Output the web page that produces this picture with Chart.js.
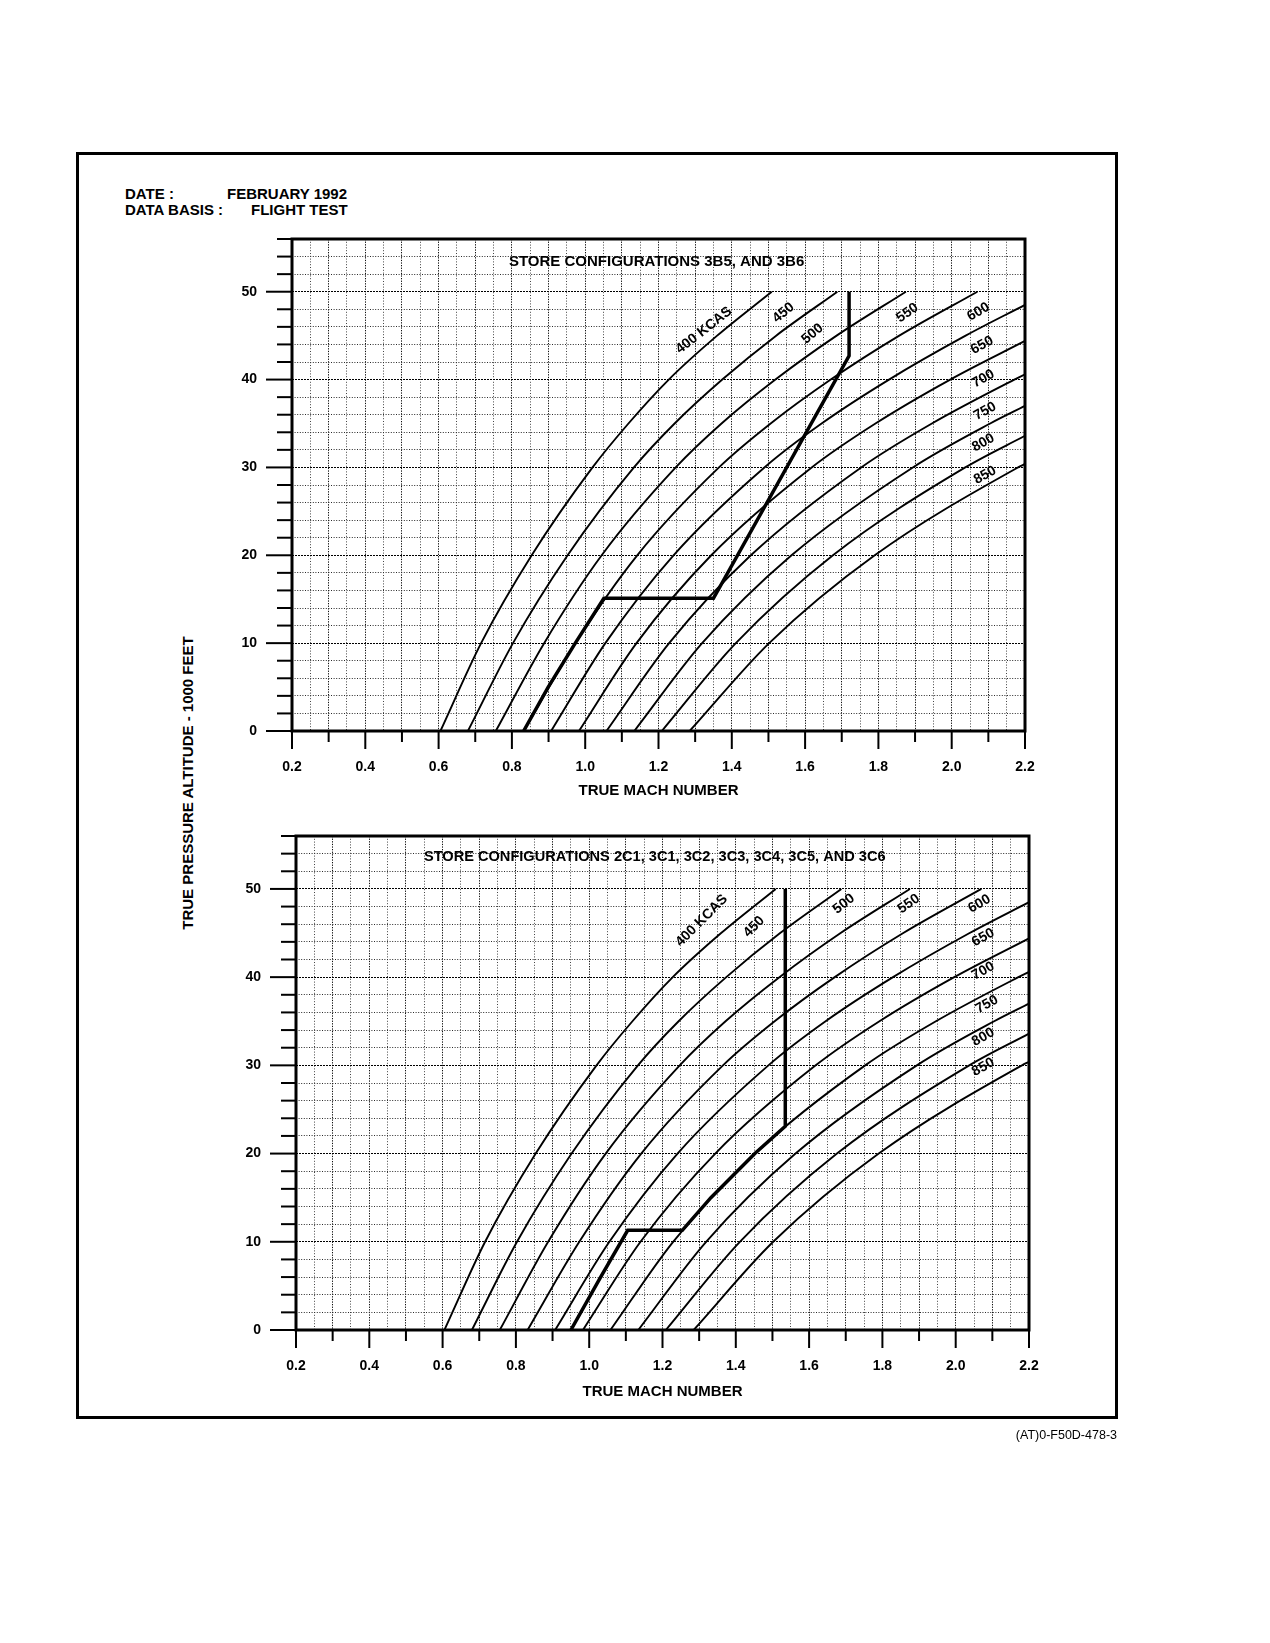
<!DOCTYPE html>
<html lang="en">
<head>
<meta charset="utf-8">
<title>True Mach number vs pressure altitude</title>
<script src="https://cdn.jsdelivr.net/npm/chart.js@4.4.1/dist/chart.umd.min.js"></script>
<style>
  html, body { margin: 0; padding: 0; background: #fff; }
  body { position: relative; width: 1270px; height: 1643px; overflow: hidden;
         font-family: "Liberation Sans", Arial, sans-serif; color: #000; }
  .frame { position: absolute; left: 76px; top: 152px; width: 1036px; height: 1261px; border: 3px solid #000; }
  .txt { position: absolute; font-weight: bold; font-size: 15px; line-height: 15px; white-space: nowrap; }
  #ytitle { position: absolute; left: -12px; top: 774px; width: 400px; height: 18px; line-height: 18px;
            text-align: center; font-weight: bold; font-size: 15px; transform: rotate(-90deg); white-space: nowrap; }
  .foot { position: absolute; right: 153px; top: 1429px; font-size: 12.5px; line-height: 12.5px; white-space: nowrap; }
  canvas { position: absolute; }
</style>
</head>
<body>
<div class="frame"></div>
<div class="txt" style="left:125px; top:186px;">DATE :</div>
<div class="txt" style="left:227px; top:186px;">FEBRUARY 1992</div>
<div class="txt" style="left:125px; top:202px;">DATA BASIS :</div>
<div class="txt" style="left:251px; top:202px;">FLIGHT TEST</div>
<div id="ytitle">TRUE PRESSURE ALTITUDE - 1000 FEET</div>
<canvas id="chartTop" width="860" height="590" style="left:190px; top:225px;"></canvas>
<canvas id="chartBottom" width="860" height="610" style="left:190px; top:820px;"></canvas>
<div class="foot">(AT)0-F50D-478-3</div>

<script>
// KCAS curves: [true Mach number, pressure altitude (1000 ft)]
const kcasNames = ['400 KCAS', '450', '500', '550', '600', '650', '700', '750', '800', '850'];
const curve400 = [[0.605, 0], [0.716, 10], [0.854, 20], [1.020, 30], [1.118, 35], [1.228, 40], [1.360, 45], [1.509, 50]];
const curve450 = [[0.680, 0], [0.803, 10], [0.952, 20], [1.133, 30], [1.244, 35], [1.374, 40], [1.521, 45], [1.688, 50]];
const curve500 = [[0.756, 0], [0.888, 10], [1.045, 20], [1.247, 30], [1.372, 35], [1.519, 40], [1.686, 45], [1.875, 50]];
const curve550 = [[0.832, 0], [0.973, 10], [1.142, 20], [1.365, 30], [1.506, 35], [1.670, 40], [1.857, 45], [2.070, 50]];
const curve600 = [[0.907, 0], [1.055, 10], [1.241, 20], [1.489, 30], [1.645, 35], [1.829, 40], [2.038, 45], [2.200, 48.5]];
const curve650 = [[0.983, 0], [1.140, 10], [1.344, 20], [1.618, 30], [1.792, 35], [1.996, 40], [2.200, 44.4]];
const curve700 = [[1.058, 0], [1.229, 10], [1.452, 20], [1.753, 30], [1.946, 35], [2.171, 40], [2.200, 40.6]];
const curve750 = [[1.134, 0], [1.319, 10], [1.563, 20], [1.894, 30], [2.105, 35], [2.200, 37.0]];
const curve800 = [[1.209, 0], [1.411, 10], [1.676, 20], [2.037, 30], [2.200, 33.6]];
const curve850 = [[1.285, 0], [1.502, 10], [1.790, 20], [2.181, 30], [2.200, 30.4]];
const kcasCurves = [curve400, curve450, curve500, curve550, curve600, curve650, curve700, curve750, curve800, curve850];

// limit lines (bold)
const envelopeTop = [[0.832, 0], [0.899, 5], [0.973, 10], [1.051, 15.1], [1.350, 15.1], [1.720, 42.7], [1.720, 50]];
const envelopeBottom = [[0.950, 0], [1.030, 5.9], [1.105, 11.3], [1.254, 11.3], [1.332, 15], [1.452, 20], [1.535, 23.1], [1.535, 50]];

// label placement: [mach, altitude, angle in degrees]
const spotsTop = [[1.324, 45.6, 38], [1.541, 47.6, 40], [1.620, 45.2, 40], [1.879, 47.6, 35], [2.073, 47.7, 30],
                  [2.083, 43.9, 29], [2.086, 40.1, 29], [2.091, 36.4, 29], [2.086, 32.8, 29], [2.091, 29.1, 29]];
const spotsBottom = [[1.307, 46.4, 45], [1.450, 45.7, 45], [1.695, 48.3, 38], [1.872, 48.3, 35], [2.065, 48.3, 30],
                     [2.075, 44.5, 29], [2.075, 40.7, 29], [2.085, 36.9, 29], [2.075, 33.2, 29], [2.075, 29.8, 29]];

const FONT = '"Liberation Sans", Arial, sans-serif';
Chart.defaults.font.family = FONT;
Chart.defaults.color = '#000';

function isStep(v, step) {
    return Math.abs(v / step - Math.round(v / step)) < 1e-6;
}

function toXY(pts) {
    return pts.map(p => ({ x: p[0], y: p[1] }));
}

function chartMarks(titleText, titleSize, titleAt, spots) {
    return {
        id: 'chartMarks',
        afterDatasetsDraw(chart) {
            const { ctx, scales: { x, y } } = chart;
            ctx.save();
            ctx.fillStyle = '#000';
            ctx.font = 'bold ' + titleSize + 'px ' + FONT;
            ctx.textAlign = 'left';
            ctx.textBaseline = 'middle';
            ctx.fillText(titleText, x.getPixelForValue(titleAt[0]), y.getPixelForValue(titleAt[1]));

            ctx.font = 'bold 14px ' + FONT;
            ctx.textAlign = 'center';
            spots.forEach((s, i) => {
                ctx.save();
                ctx.translate(x.getPixelForValue(s[0]), y.getPixelForValue(s[1]));
                ctx.rotate(-s[2] * Math.PI / 180);
                ctx.fillText(kcasNames[i], 0, 0);
                ctx.restore();
            });
            ctx.restore();
        },
        afterDraw(chart) {
            const { ctx, chartArea: a, scales: { x, y } } = chart;
            ctx.save();
            ctx.strokeStyle = '#000';
            ctx.lineWidth = 2;
            x.ticks.forEach(t => {
                if (!isStep(t.value, 0.1)) return;
                const len = isStep(t.value, 0.2) ? 18 : 11;
                const px = x.getPixelForValue(t.value);
                ctx.beginPath();
                ctx.moveTo(px, a.bottom);
                ctx.lineTo(px, a.bottom + len);
                ctx.stroke();
            });
            y.ticks.forEach(t => {
                const len = isStep(t.value, 10) ? 26 : 15;
                const py = y.getPixelForValue(t.value);
                ctx.beginPath();
                ctx.moveTo(a.left, py);
                ctx.lineTo(a.left - len, py);
                ctx.stroke();
            });
            ctx.lineWidth = 3;
            ctx.strokeRect(a.left, a.top, a.right - a.left, a.bottom - a.top);
            ctx.restore();
        }
    };
}

function buildChart(canvasId, box, envelope, titleText, titleSize, titleAt, spots) {
    const datasets = kcasCurves.map(c => ({
        data: toXY(c),
        borderColor: '#000',
        borderWidth: 1.9,
        pointRadius: 0,
        fill: false,
        cubicInterpolationMode: 'monotone'
    }));
    datasets.push({
        data: toXY(envelope),
        borderColor: '#000',
        borderWidth: 3.5,
        pointRadius: 0,
        fill: false,
        tension: 0,
        borderJoinStyle: 'miter'
    });

    return new Chart(document.getElementById(canvasId), {
        type: 'line',
        data: { datasets: datasets },
        options: {
            responsive: false,
            animation: false,
            events: [],
            layout: { padding: { top: box.top, right: box.right, left: 0, bottom: 0 } },
            plugins: { legend: { display: false }, tooltip: { enabled: false } },
            scales: {
                x: {
                    type: 'linear',
                    min: 0.2,
                    max: 2.2,
                    afterFit: s => {
                        s.height = box.xHeight;
                        s.paddingLeft = 0;
                        s.paddingRight = 0;
                    },
                    ticks: {
                        stepSize: 0.05,
                        autoSkip: false,
                        maxRotation: 0,
                        minRotation: 0,
                        padding: 28,
                        font: { size: 14, weight: 'bold' },
                        callback: v => isStep(v, 0.2) ? v.toFixed(1) : ''
                    },
                    grid: {
                        drawTicks: false,
                        lineWidth: 1,
                        color: c => isStep(c.tick.value, 0.1) ? '#111' : '#444'
                    },
                    border: {
                        display: false,
                        dash: c => isStep(c.tick.value, 0.1) ? [1.3, 1.3] : [1, 1.8]
                    },
                    title: {
                        display: true,
                        text: 'TRUE MACH NUMBER',
                        font: { size: 15, weight: 'bold' },
                        padding: { top: 0, bottom: box.titlePad }
                    }
                },
                y: {
                    type: 'linear',
                    min: 0,
                    max: 56,
                    afterFit: s => {
                        s.width = box.yWidth;
                        s.paddingTop = 0;
                        s.paddingBottom = 0;
                    },
                    ticks: {
                        stepSize: 2,
                        autoSkip: false,
                        padding: 35,
                        font: { size: 14, weight: 'bold' },
                        callback: v => v % 10 === 0 ? String(v) : ''
                    },
                    grid: {
                        drawTicks: false,
                        lineWidth: 1,
                        color: c => isStep(c.tick.value, 10) ? '#000' : '#2a2a2a'
                    },
                    border: {
                        display: false,
                        dash: c => isStep(c.tick.value, 10) ? [2, 1] : [1, 1.6]
                    }
                }
            }
        },
        plugins: [chartMarks(titleText, titleSize, titleAt, spots)]
    });
}

buildChart('chartTop', { top: 14, right: 25, yWidth: 102, xHeight: 84, titlePad: 15 },
    envelopeTop, 'STORE CONFIGURATIONS 3B5, AND 3B6', 15, [0.792, 53.35], spotsTop);

buildChart('chartBottom', { top: 16, right: 21, yWidth: 106, xHeight: 100, titlePad: 29 },
    envelopeBottom, 'STORE CONFIGURATIONS 2C1, 3C1, 3C2, 3C3, 3C4, 3C5, AND 3C6', 14.6, [0.549, 53.6], spotsBottom);
</script>
</body>
</html>
